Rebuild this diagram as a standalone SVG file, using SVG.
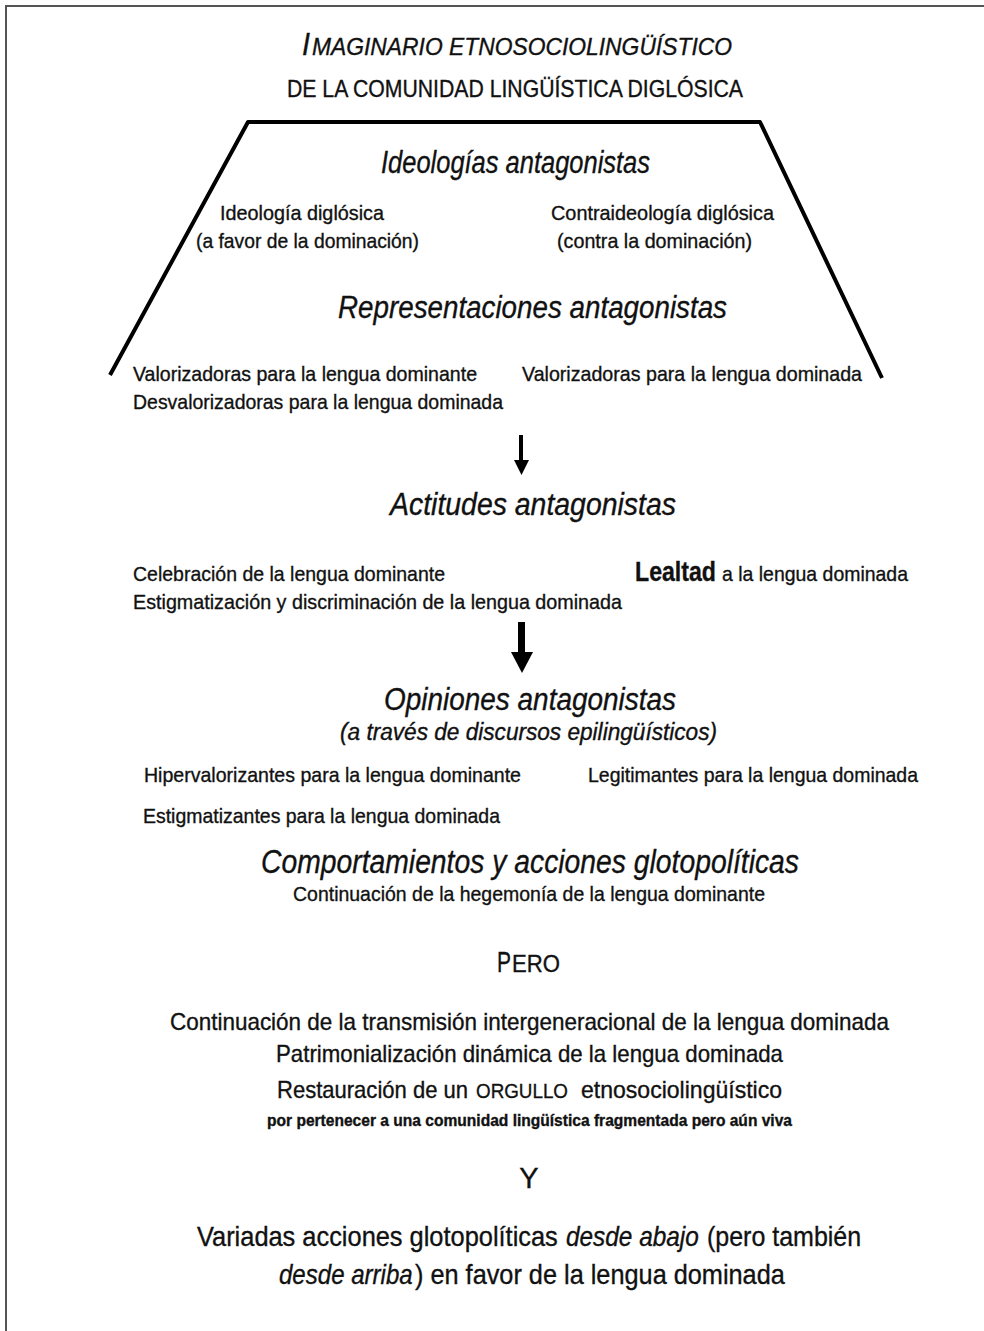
<svg xmlns="http://www.w3.org/2000/svg" width="984" height="1331" viewBox="0 0 984 1331">
<style>
text{font-family:"Liberation Sans Narrow","Liberation Sans",Arial,sans-serif;fill:#111;stroke:#111;stroke-width:0.35;}
.h{font-size:31px;font-style:italic;}
.b{font-size:21px;}
.m{font-size:24px;}
.l{font-size:28px;}
.it{font-style:italic;}
.frame{stroke:#555;stroke-width:2;fill:none;}
.trap{stroke:#000;stroke-width:4;fill:none;stroke-linejoin:round;}
</style>
<rect x="0" y="0" width="984" height="1331" fill="#fff"/>
<path class="frame" d="M6,1331 V6 H984"/>
<g id="title">
<text x="302" y="55" font-size="31" class="it" textLength="8" lengthAdjust="spacingAndGlyphs">I</text>
<text x="312" y="55" font-size="24" class="it" textLength="420" lengthAdjust="spacingAndGlyphs">MAGINARIO ETNOSOCIOLINGÜÍSTICO</text>
<text x="287" y="97" font-size="24" textLength="456" lengthAdjust="spacingAndGlyphs">DE LA COMUNIDAD LINGÜÍSTICA DIGLÓSICA</text>
</g>
<g id="trapecio">
<path class="trap" d="M110,375 L248,122 L760,122 L882,378"/>
</g>
<g id="ideologias">
<text x="381" y="173" class="h" textLength="269" lengthAdjust="spacingAndGlyphs">Ideologías antagonistas</text>
<text x="220" y="220" class="b" textLength="164" lengthAdjust="spacingAndGlyphs">Ideología diglósica</text>
<text x="196" y="248" class="b" textLength="223" lengthAdjust="spacingAndGlyphs">(a favor de la dominación)</text>
<text x="551" y="220" class="b" textLength="223" lengthAdjust="spacingAndGlyphs">Contraideología diglósica</text>
<text x="557" y="248" class="b" textLength="195" lengthAdjust="spacingAndGlyphs">(contra la dominación)</text>
</g>
<g id="representaciones">
<text x="338" y="318" class="h" textLength="389" lengthAdjust="spacingAndGlyphs">Representaciones antagonistas</text>
<text x="133" y="381" class="b" textLength="344" lengthAdjust="spacingAndGlyphs">Valorizadoras para la lengua dominante</text>
<text x="133" y="409" class="b" textLength="370" lengthAdjust="spacingAndGlyphs">Desvalorizadoras para la lengua dominada</text>
<text x="522" y="381" class="b" textLength="340" lengthAdjust="spacingAndGlyphs">Valorizadoras para la lengua dominada</text>
</g>
<g id="actitudes">
<text x="390" y="515" class="h" textLength="286" lengthAdjust="spacingAndGlyphs">Actitudes antagonistas</text>
<text x="133" y="581" class="b" textLength="312" lengthAdjust="spacingAndGlyphs">Celebración de la lengua dominante</text>
<text x="133" y="609" class="b" textLength="489" lengthAdjust="spacingAndGlyphs">Estigmatización y discriminación de la lengua dominada</text>
<text x="635" y="581" font-size="27" font-weight="bold" textLength="81" lengthAdjust="spacingAndGlyphs">Lealtad</text>
<text x="722" y="581" class="b" textLength="186" lengthAdjust="spacingAndGlyphs">a la lengua dominada</text>
</g>
<g id="opiniones">
<text x="384" y="710" class="h" textLength="292" lengthAdjust="spacingAndGlyphs">Opiniones antagonistas</text>
<text x="340" y="740" font-size="23" class="it" textLength="377" lengthAdjust="spacingAndGlyphs">(a través de discursos epilingüísticos)</text>
<text x="144" y="782" class="b" textLength="377" lengthAdjust="spacingAndGlyphs">Hipervalorizantes para la lengua dominante</text>
<text x="588" y="782" class="b" textLength="330" lengthAdjust="spacingAndGlyphs">Legitimantes para la lengua dominada</text>
<text x="143" y="823" class="b" textLength="357" lengthAdjust="spacingAndGlyphs">Estigmatizantes para la lengua dominada</text>
</g>
<g id="comportamientos">
<text x="261" y="873" font-size="33" class="it" textLength="538" lengthAdjust="spacingAndGlyphs">Comportamientos y acciones glotopolíticas</text>
<text x="293" y="901" class="b" textLength="472" lengthAdjust="spacingAndGlyphs">Continuación de la hegemonía de la lengua dominante</text>
</g>
<g id="pero">
<text transform="translate(497,972) scale(0.7,1)" font-size="30" textLength="20" lengthAdjust="spacingAndGlyphs">P</text>
<text transform="translate(512,972) scale(0.94,1)" font-size="23" textLength="51" lengthAdjust="spacingAndGlyphs">ERO</text>
</g>
<g id="resistencia">
<text x="170" y="1030" class="m" textLength="719" lengthAdjust="spacingAndGlyphs">Continuación de la transmisión intergeneracional de la lengua dominada</text>
<text x="276" y="1062" class="m" textLength="507" lengthAdjust="spacingAndGlyphs">Patrimonialización dinámica de la lengua dominada</text>
<text x="277" y="1098" class="m" textLength="191" lengthAdjust="spacingAndGlyphs">Restauración de un</text>
<text x="476" y="1098" font-size="21" textLength="92" lengthAdjust="spacingAndGlyphs">ORGULLO</text>
<text x="581" y="1098" class="m" textLength="201" lengthAdjust="spacingAndGlyphs">etnosociolingüístico</text>
<text x="267" y="1126" font-size="16" font-weight="bold" textLength="525" lengthAdjust="spacingAndGlyphs">por pertenecer a una comunidad lingüística fragmentada pero aún viva</text>
</g>
<g id="y">
<text x="529" y="1188" font-size="29" text-anchor="middle">Y</text>
</g>
<g id="acciones">
<text transform="translate(197,1246) scale(0.82,1)" class="l" textLength="440" lengthAdjust="spacingAndGlyphs">Variadas acciones glotopolíticas</text>
<text transform="translate(566,1246) scale(0.82,1)" class="l it" textLength="162" lengthAdjust="spacingAndGlyphs">desde abajo</text>
<text transform="translate(707,1246) scale(0.82,1)" class="l" textLength="188" lengthAdjust="spacingAndGlyphs">(pero también</text>
<text transform="translate(279,1284) scale(0.82,1)" class="l it" textLength="163" lengthAdjust="spacingAndGlyphs">desde arriba</text>
<text transform="translate(415,1284) scale(0.82,1)" class="l" textLength="451" lengthAdjust="spacingAndGlyphs">) en favor de la lengua dominada</text>
</g>
<g id="connectors">
<line x1="521" y1="435" x2="521" y2="462" stroke="#000" stroke-width="4"/>
<polygon points="514,460 529,460 521.5,475" fill="#000"/>
<line x1="521.5" y1="622" x2="521.5" y2="654" stroke="#000" stroke-width="7"/>
<polygon points="511,652 533,652 522,673" fill="#000"/>
</g>
</svg>
